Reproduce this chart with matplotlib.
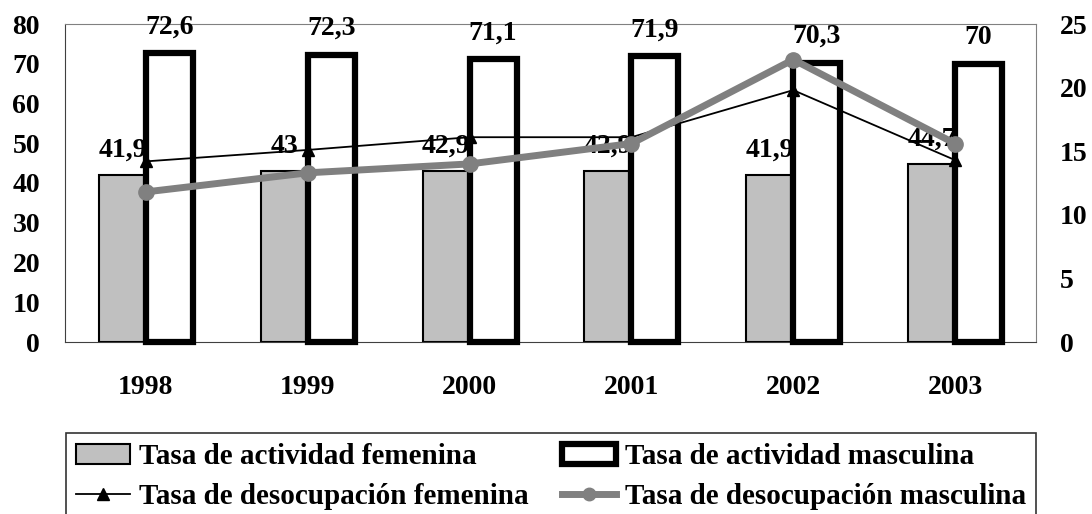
import matplotlib
matplotlib.use("Agg")
import matplotlib.pyplot as plt
from matplotlib.patches import Patch
from matplotlib.lines import Line2D
import numpy as np

plt.rcParams['font.family'] = ['Liberation Serif', 'DejaVu Serif']
plt.rcParams['font.weight'] = 'bold'

years = ['1998', '1999', '2000', '2001', '2002', '2003']
act_fem = [41.9, 43, 42.9, 42.9, 41.9, 44.7]
act_masc = [72.6, 72.3, 71.1, 71.9, 70.3, 70]
desoc_fem = [14.2, 15.1, 16.1, 16.1, 19.8, 14.3]
desoc_masc = [11.8, 13.3, 14.0, 15.6, 22.2, 15.6]

W, H = 1092, 514
fig = plt.figure(figsize=(W / 100, H / 100), dpi=100)
ax = fig.add_axes([65 / W, 1 - 342 / H, 971 / W, 318 / H])
ax2 = ax.twinx()

x = np.arange(len(years))
bw = 0.29

def fmt(v):
    return ('%g' % v).replace('.', ',')

b1 = ax.bar(x, act_fem, width=-bw, align='edge', color='#c0c0c0',
            edgecolor='black', linewidth=1.5, zorder=2)
for xi, v in zip(x, act_fem):
    ax.annotate(fmt(v), (xi - bw / 2, v), xytext=(0, 18), textcoords='offset points',
                ha='center', va='center', fontsize=20, zorder=2.5)
b2 = ax.bar(x, act_masc, width=bw, align='edge', color='white',
            edgecolor='black', linewidth=4.5, zorder=3, clip_on=False)
for xi, v in zip(x, act_masc):
    ax.annotate(fmt(v), (xi + bw / 2, v), xytext=(0, 19), textcoords='offset points',
                ha='center', va='center', fontsize=20, zorder=4, annotation_clip=False)

ax2.plot(x, desoc_fem, color='black', linewidth=1.3, marker='^', markersize=8, zorder=3)
ax2.plot(x, desoc_masc, color='#808080', linewidth=5, marker='o', markersize=11, zorder=4)

ax.set_xlim(-0.5, len(years) - 0.5)
ax.set_ylim(0, 80)
ax2.set_ylim(0, 25)
ax.set_yticks(range(0, 81, 10))
ax2.set_yticks(range(0, 26, 5))
ax.set_xticks(x)
ax.set_xticklabels(years)

ax.tick_params(axis='y', length=0, pad=18, labelsize=20)
ax.tick_params(axis='x', length=0, pad=24, labelsize=20)
ax2.tick_params(axis='y', length=0, pad=17, labelsize=20)

for s in ['top', 'right']:
    ax.spines[s].set_color('#808080')
for s in ['left', 'bottom']:
    ax.spines[s].set_color('#404040')
for s in ax2.spines.values():
    s.set_visible(False)

handles = [
    Patch(facecolor='#c0c0c0', edgecolor='black', linewidth=1.5),
    Line2D([], [], color='black', linewidth=1.3, marker='^', markersize=8),
    Patch(facecolor='white', edgecolor='black', linewidth=4.5),
    Line2D([], [], color='#808080', linewidth=5, marker='o', markersize=9),
]
labels = ['Tasa de actividad femenina', 'Tasa de desocupación femenina',
          'Tasa de actividad masculina', 'Tasa de desocupación masculina']
top = 1 - 433 / H
leg = fig.legend(handles, labels, ncol=2, loc='upper left',
                 bbox_to_anchor=(66 / W, top - 0.1, 970 / W, 0.1), mode='expand',
                 fontsize=21, frameon=True, fancybox=False, edgecolor='black',
                 borderaxespad=0, handlelength=1.85, handletextpad=0.3,
                 borderpad=0.35, labelspacing=0.45, columnspacing=0.5)
leg.get_frame().set_linewidth(1.2)

fig.savefig('out.png', dpi=100)
